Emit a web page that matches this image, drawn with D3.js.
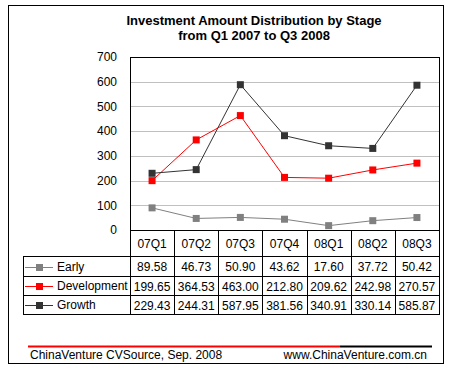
<!DOCTYPE html>
<html>
<head>
<meta charset="utf-8">
<script src="https://cdn.jsdelivr.net/npm/d3@7"></script>
<style>
  body { margin: 0; background: #fff; }
  text { font-family: "Liberation Sans", Arial, sans-serif; }
</style>
</head>
<body>
<script>
const quarters = ['07Q1', '07Q2', '07Q3', '07Q4', '08Q1', '08Q2', '08Q3'];
const early = [89.58, 46.73, 50.90, 43.62, 17.60, 37.72, 50.42];
const development = [199.65, 364.53, 463.00, 212.80, 209.62, 242.98, 270.57];
const growth = [229.43, 244.31, 587.95, 381.56, 340.91, 330.14, 585.87];
const yTicks = [0, 100, 200, 300, 400, 500, 600, 700];

const series = [
  { name: 'Early', values: early, color: '#808080' },
  { name: 'Development', values: development, color: '#ff0000' },
  { name: 'Growth', values: growth, color: '#333333' }
];

const width = 452;
const height = 367;
const plot = { left: 130, right: 439, top: 57, bottom: 230 };

const svg = d3.select('body')
  .append('svg')
  .attr('width', width)
  .attr('height', height);

// outer frame
svg.append('rect')
  .attr('x', 8.5).attr('y', 5.5)
  .attr('width', 435).attr('height', 358)
  .attr('fill', 'none').attr('stroke', '#000');

svg.append('text')
  .attr('x', 254).attr('y', 25)
  .attr('text-anchor', 'middle')
  .attr('font-size', 13).attr('font-weight', 'bold')
  .text('Investment Amount Distribution by Stage');
svg.append('text')
  .attr('x', 254).attr('y', 40)
  .attr('text-anchor', 'middle')
  .attr('font-size', 13).attr('font-weight', 'bold')
  .text('from Q1 2007 to Q3 2008');

const x = d3.scaleBand()
  .domain(quarters)
  .range([plot.left, plot.right]);

const y = d3.scaleLinear()
  .domain([0, 700])
  .range([plot.bottom, plot.top]);

// gridlines
svg.append('g')
  .selectAll('line')
  .data(yTicks.filter(d => d > 0 && d < 700)).enter()
  .append('line')
  .attr('x1', plot.left).attr('x2', plot.right)
  .attr('y1', d => Math.round(y(d)) + 0.5)
  .attr('y2', d => Math.round(y(d)) + 0.5)
  .attr('stroke', '#c0c0c0');

// y axis labels
const yAxis = svg.append('g')
  .attr('transform', `translate(${plot.left - 13},0)`)
  .call(d3.axisLeft(y).tickValues(yTicks).tickSize(0).tickPadding(0));
yAxis.select('.domain').remove();
yAxis.selectAll('text')
  .attr('font-size', 12)
  .attr('font-family', '"Liberation Sans", Arial, sans-serif')
  .attr('fill', '#000');

svg.append('rect')
  .attr('x', plot.left + 0.5).attr('y', plot.top + 0.5)
  .attr('width', plot.right - plot.left).attr('height', plot.bottom - plot.top)
  .attr('fill', 'none').attr('stroke', '#000');

const cx = d => x(d) + x.bandwidth() / 2;

const line = d3.line()
  .x((d, i) => cx(quarters[i]))
  .y(d => y(d));

series.forEach(s => {
  svg.append('path')
    .datum(s.values)
    .attr('d', line)
    .attr('fill', 'none')
    .attr('stroke', s.color)
    .attr('stroke-width', 1);

  svg.append('g')
    .selectAll('rect')
    .data(s.values).enter()
    .append('rect')
    .attr('x', (d, i) => cx(quarters[i]) - 3.5)
    .attr('y', d => y(d) - 3.5)
    .attr('width', 7).attr('height', 7)
    .attr('fill', s.color);
});

// data table
const rowTop = [256, 276, 295];
const rowH = [20, 19, 19];
const tableLeft = 23;
const tableBottom = 314;

const grid = svg.append('g').attr('stroke', '#000').attr('fill', 'none');
// header row vertical lines
quarters.forEach(q => {
  grid.append('line')
    .attr('x1', Math.round(x(q)) + 0.5).attr('x2', Math.round(x(q)) + 0.5)
    .attr('y1', plot.bottom).attr('y2', tableBottom);
});
grid.append('line')
  .attr('x1', plot.right + 0.5).attr('x2', plot.right + 0.5)
  .attr('y1', plot.bottom).attr('y2', tableBottom);
grid.append('line')
  .attr('x1', plot.left).attr('x2', plot.right)
  .attr('y1', rowTop[0] + 0.5).attr('y2', rowTop[0] + 0.5);
grid.append('line')
  .attr('x1', tableLeft).attr('x2', plot.right)
  .attr('y1', rowTop[0] + 0.5).attr('y2', rowTop[0] + 0.5);
rowTop.slice(1).forEach(r => {
  grid.append('line')
    .attr('x1', tableLeft).attr('x2', plot.right)
    .attr('y1', r + 0.5).attr('y2', r + 0.5);
});
grid.append('line')
  .attr('x1', tableLeft).attr('x2', plot.right + 1)
  .attr('y1', tableBottom + 0.5).attr('y2', tableBottom + 0.5);
grid.append('line')
  .attr('x1', tableLeft + 0.5).attr('x2', tableLeft + 0.5)
  .attr('y1', rowTop[0]).attr('y2', tableBottom);

// header labels
svg.append('g')
  .selectAll('text')
  .data(quarters).enter()
  .append('text')
  .attr('x', d => cx(d))
  .attr('y', 248)
  .attr('text-anchor', 'middle')
  .attr('font-size', 12)
  .text(d => d);

series.forEach((s, r) => {
  const mid = rowTop[r] + rowH[r] / 2 + 0.5;
  svg.append('line')
    .attr('x1', 25).attr('x2', 53)
    .attr('y1', Math.round(mid) + 0.5).attr('y2', Math.round(mid) + 0.5)
    .attr('stroke', s.color);
  svg.append('rect')
    .attr('x', 36).attr('y', Math.round(mid) - 3)
    .attr('width', 7).attr('height', 7)
    .attr('fill', s.color);
  svg.append('text')
    .attr('x', 57).attr('y', mid + 4)
    .attr('font-size', 12)
    .text(s.name);

  svg.append('g')
    .selectAll('text')
    .data(s.values).enter()
    .append('text')
    .attr('x', (d, i) => cx(quarters[i]))
    .attr('y', mid + 4.5)
    .attr('text-anchor', 'middle')
    .attr('font-size', 12)
    .text(d => d.toFixed(2));
});

// footer
svg.append('line')
  .attr('x1', 28).attr('x2', 340).attr('y1', 346.5).attr('y2', 346.5)
  .attr('stroke', '#ff0000').attr('stroke-width', 2);
svg.append('line')
  .attr('x1', 340).attr('x2', 432).attr('y1', 346.5).attr('y2', 346.5)
  .attr('stroke', '#000').attr('stroke-width', 2);
svg.append('text')
  .attr('x', 30).attr('y', 359)
  .attr('font-size', 12)
  .text('ChinaVenture CVSource, Sep. 2008');
svg.append('text')
  .attr('x', 427).attr('y', 359)
  .attr('text-anchor', 'end')
  .attr('font-size', 12)
  .text('www.ChinaVenture.com.cn');
</script>
</body>
</html>
